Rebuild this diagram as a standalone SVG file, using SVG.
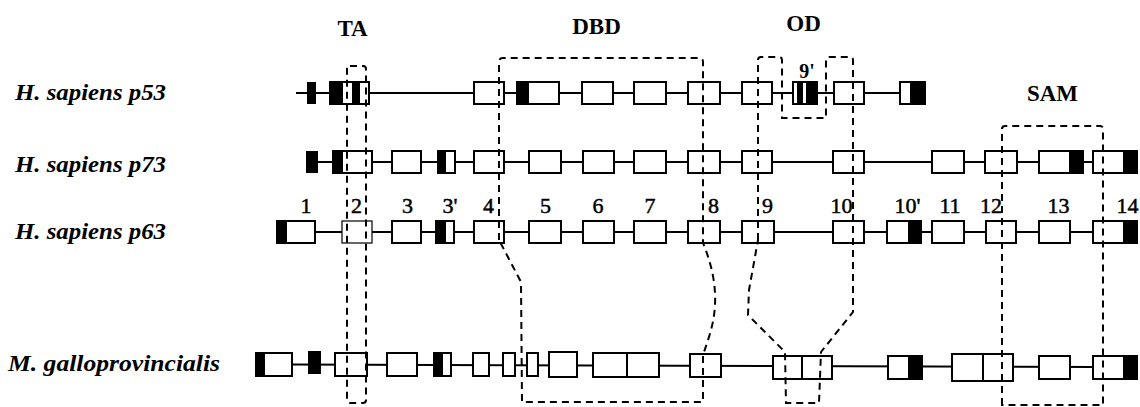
<svg xmlns="http://www.w3.org/2000/svg" width="1140" height="407" viewBox="0 0 1140 407">
<style>
.bg{fill:#fff}
.ln{stroke:#000;stroke-width:2;fill:none}
.ex{fill:#fff;stroke:#000;stroke-width:2}
.thin{fill:#fff;stroke:#000;stroke-width:1.2}
.blk{fill:#000}
.dash{fill:none;stroke:#000;stroke-width:2;stroke-dasharray:7 5}
.lab{font-family:"Liberation Serif",serif;font-style:italic;font-weight:bold;font-size:24px;fill:#000}
.dom{font-family:"Liberation Serif",serif;font-weight:bold;font-size:23px;fill:#000;text-anchor:middle}
.num{font-family:"Liberation Serif",serif;font-size:22px;fill:#000;stroke:#000;stroke-width:0.5;text-anchor:middle}
</style>
<rect class="bg" x="0" y="0" width="1140" height="407"/>

<g id="labels">
<text class="lab" x="15" y="100" textLength="151" lengthAdjust="spacingAndGlyphs">H. sapiens p53</text>
<text class="lab" x="15" y="172" textLength="151" lengthAdjust="spacingAndGlyphs">H. sapiens p73</text>
<text class="lab" x="15" y="239" textLength="151" lengthAdjust="spacingAndGlyphs">H. sapiens p63</text>
<text class="lab" x="8" y="371" textLength="212" lengthAdjust="spacingAndGlyphs">M. galloprovincialis</text>
</g>

<g id="row-p53">
<line class="ln" x1="296" y1="93" x2="910" y2="93"/>
<rect class="blk" x="307" y="82" width="9" height="22"/>
<rect class="ex" x="330" y="82" width="39" height="22"/>
<rect class="blk" x="330" y="82" width="13" height="22"/>
<rect class="blk" x="352" y="82" width="8" height="22"/>
<rect class="ex" x="474" y="82" width="30" height="22"/>
<rect class="ex" x="517" y="82" width="42" height="22"/>
<rect class="blk" x="517" y="82" width="12" height="22"/>
<rect class="ex" x="582" y="82" width="31" height="22"/>
<rect class="ex" x="634" y="82" width="32" height="22"/>
<rect class="ex" x="688" y="82" width="32" height="22"/>
<rect class="ex" x="742" y="82" width="30" height="22"/>
<rect class="ex" x="793" y="82" width="24" height="22"/>
<rect class="blk" x="797" y="82" width="6" height="22"/>
<rect class="blk" x="806" y="82" width="11" height="22"/>
<rect class="ex" x="834" y="82" width="30" height="22"/>
<rect class="ex" x="900" y="82" width="25" height="22"/>
<rect class="blk" x="910" y="82" width="15" height="22"/>
<text class="dom" x="807" y="78" style="font-size:20px">9'</text>
</g>

<g id="row-p73">
<line class="ln" x1="306" y1="162" x2="1130" y2="162"/>
<rect class="blk" x="306" y="151" width="12" height="22"/>
<rect class="ex" x="333" y="151" width="39" height="22"/>
<rect class="blk" x="333" y="151" width="10" height="22"/>
<rect class="ex" x="392" y="151" width="29" height="22"/>
<rect class="ex" x="438" y="151" width="17" height="22"/>
<rect class="blk" x="438" y="151" width="8" height="22"/>
<rect class="ex" x="474" y="151" width="30" height="22"/>
<rect class="ex" x="529" y="151" width="32" height="22"/>
<rect class="ex" x="583" y="151" width="31" height="22"/>
<rect class="ex" x="634" y="151" width="32" height="22"/>
<rect class="ex" x="688" y="151" width="32" height="22"/>
<rect class="ex" x="742" y="151" width="30" height="22"/>
<rect class="ex" x="833" y="151" width="31" height="22"/>
<rect class="ex" x="932" y="151" width="32" height="22"/>
<rect class="ex" x="985" y="151" width="32" height="22"/>
<rect class="ex" x="1039" y="151" width="44" height="22"/>
<rect class="blk" x="1069" y="151" width="14" height="22"/>
<rect class="ex" x="1093" y="151" width="44" height="22"/>
<rect class="blk" x="1123" y="151" width="14" height="22"/>
</g>

<g id="row-p63">
<line class="ln" x1="277" y1="232" x2="1130" y2="232"/>
<rect class="ex" x="277" y="221" width="38" height="22"/>
<rect class="blk" x="277" y="221" width="10" height="22"/>
<rect class="thin" x="342" y="221" width="30" height="22"/>
<rect class="ex" x="392" y="221" width="29" height="22"/>
<rect class="ex" x="436" y="221" width="18" height="22"/>
<rect class="blk" x="436" y="221" width="10" height="22"/>
<rect class="ex" x="474" y="221" width="30" height="22"/>
<rect class="ex" x="529" y="221" width="32" height="22"/>
<rect class="ex" x="583" y="221" width="31" height="22"/>
<rect class="ex" x="634" y="221" width="32" height="22"/>
<rect class="ex" x="688" y="221" width="32" height="22"/>
<rect class="ex" x="742" y="221" width="32" height="22"/>
<rect class="ex" x="833" y="221" width="31" height="22"/>
<rect class="ex" x="887" y="221" width="34" height="22"/>
<rect class="blk" x="908" y="221" width="13" height="22"/>
<rect class="ex" x="932" y="221" width="32" height="22"/>
<rect class="ex" x="986" y="221" width="30" height="22"/>
<rect class="ex" x="1039" y="221" width="31" height="22"/>
<rect class="ex" x="1093" y="221" width="44" height="22"/>
<rect class="blk" x="1123" y="221" width="14" height="22"/>
</g>

<g id="exon-numbers">
<text class="num" x="306" y="213">1</text>
<text class="num" x="356.5" y="213">2</text>
<text class="num" x="407.5" y="213">3</text>
<text class="num" x="450" y="213">3'</text>
<text class="num" x="488.5" y="213">4</text>
<text class="num" x="545.5" y="213">5</text>
<text class="num" x="598" y="213">6</text>
<text class="num" x="650" y="213">7</text>
<text class="num" x="713.5" y="213">8</text>
<text class="num" x="767.5" y="213">9</text>
<text class="num" x="841.5" y="213">10</text>
<text class="num" x="907.5" y="213">10'</text>
<text class="num" x="950" y="213">11</text>
<text class="num" x="991" y="213">12</text>
<text class="num" x="1058.5" y="213">13</text>
<text class="num" x="1127.5" y="213">14</text>
</g>

<g id="row-mgallo">
<line class="ln" x1="292" y1="364.5" x2="1093" y2="367"/>
<rect class="ex" x="256" y="353" width="36" height="23"/>
<rect class="blk" x="256" y="353" width="9" height="23"/>
<rect class="blk" x="308" y="351" width="13" height="23"/>
<rect class="ex" x="335" y="353" width="32" height="23"/>
<rect class="ex" x="387" y="353" width="30" height="23"/>
<rect class="ex" x="434" y="353" width="17" height="23"/>
<rect class="blk" x="434" y="353" width="9" height="23"/>
<rect class="ex" x="473" y="353" width="16" height="23"/>
<rect class="ex" x="503" y="353" width="12" height="23"/>
<rect class="ex" x="527" y="353" width="11" height="23"/>
<rect class="ex" x="549" y="352" width="28" height="25"/>
<rect class="ex" x="593" y="353" width="66" height="24"/>
<line class="ln" x1="627" y1="353" x2="627" y2="377"/>
<rect class="ex" x="690" y="354" width="31" height="23"/>
<rect class="ex" x="773" y="356" width="59" height="23"/>
<line class="ln" x1="802" y1="356" x2="802" y2="379"/>
<rect class="ex" x="888" y="356" width="34" height="23"/>
<rect class="blk" x="908" y="356" width="14" height="23"/>
<rect class="ex" x="952" y="354" width="61" height="27"/>
<line class="ln" x1="983" y1="354" x2="983" y2="381"/>
<rect class="ex" x="1039" y="356" width="31" height="23"/>
<rect class="ex" x="1093" y="356" width="44" height="23"/>
<rect class="blk" x="1123" y="356" width="14" height="23"/>
</g>

<g id="domain-labels">
<text class="dom" x="352.5" y="36">TA</text>
<text class="dom" x="596.5" y="34">DBD</text>
<text class="dom" x="803.5" y="31">OD</text>
<text class="dom" x="1052.5" y="101">SAM</text>
</g>

<g id="connectors">
<rect class="dash" x="347" y="66" width="19" height="337" rx="3"/>
<path class="dash" d="M499,240 L499,62 Q499,58 503,58 L699,58 Q703,58 703,62 L703,243 C712,265 716,285 715,305 C714,325 708,340 703,355 L703,402 L522,402 L521,282 Z"/>
<path class="dash" d="M758,240 L758,60 Q758,57 761,57 L779,57 Q782,57 782,60 L782,118 L826,118 L826,60 Q826,57 829,57 L850,57 Q853,57 853,60 L853,312 L821,352 L819,403 L786,403 L785,352 L748,315 L749,290 Z"/>
<path class="dash" d="M1002,405 L1002,129 Q1002,126 1005,126 L1100,126 Q1103,126 1103,129 L1103,405 Z"/>
</g>
</svg>
